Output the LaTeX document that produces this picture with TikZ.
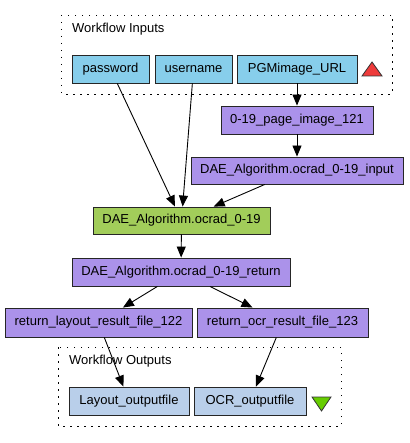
\documentclass[tikz,border=0pt]{standalone}
\usepackage{fontspec}
\setmainfont{Liberation Sans}
\usetikzlibrary{arrows.meta}
\definecolor{inblue}{HTML}{87CEEB}
\definecolor{procpurple}{HTML}{AB92EA}
\definecolor{procgreen}{HTML}{A2CD5A}
\definecolor{outblue}{HTML}{B9CFEA}
\definecolor{trired}{HTML}{EE3B3B}
\definecolor{trigreen}{HTML}{66CD00}
\tikzset{
  box/.style={draw=black!85, line width=0.9pt, rectangle, inner sep=0pt, minimum height=28pt,
    font=\fontsize{13}{15}\selectfont},
  inport/.style={box, fill=inblue},
  proc/.style={box, fill=procpurple},
  mainproc/.style={box, fill=procgreen},
  outport/.style={box, fill=outblue},
  cluster/.style={draw=black, line width=0.9pt, dash pattern=on 1.5pt off 5.5pt},
  edge/.style={draw=black, line width=0.9pt, -{Triangle[length=11pt,width=9pt]}},
  title/.style={anchor=west, inner sep=0pt, font=\fontsize{13}{15}\selectfont}
}
\begin{document}
\begin{tikzpicture}[x=1pt,y=-1pt]
\useasboundingbox (0,0) rectangle (409,443);
% clusters
\draw[cluster] (61,15) rectangle (392,94);
\node[title] (intitle) at (72,29) {Workflow Inputs};
\draw[cluster] (58,347) rectangle (341,426);
\node[title] (outtitle) at (69,361) {Workflow Outputs};
% inputs
\node[inport, minimum width=77pt] (password) at (110.5,69) {password};
\node[inport, minimum width=77pt] (username) at (193.5,69) {username};
\node[inport, minimum width=120pt] (pgm) at (297,69) {PGMimage\_URL};
\draw[draw=black!80, fill=trired, line width=0.8pt] (362,76) -- (382,76) -- (372,62) -- cycle;
% processors
\node[proc, minimum width=152pt] (page) at (297,120) {0-19\_page\_image\_121};
\node[proc, minimum width=212pt, minimum height=27pt] (input) at (297,170.5) {DAE\_Algorithm.ocrad\_0-19\_input};
\node[mainproc, minimum width=177pt, minimum height=27pt] (alg) at (181.5,220.5) {DAE\_Algorithm.ocrad\_0-19};
\node[proc, minimum width=218pt] (ret) at (181,272) {DAE\_Algorithm.ocrad\_0-19\_return};
\node[proc, minimum width=187pt, minimum height=29pt] (layres) at (98.5,322.5) {return\_layout\_result\_file\_122};
\node[proc, minimum width=171pt, minimum height=29pt] (ocrres) at (282.5,322.5) {return\_ocr\_result\_file\_123};
% outputs
\node[outport, minimum width=120pt] (layout) at (129,401) {Layout\_outputfile};
\node[outport, minimum width=112pt] (ocr) at (250,401) {OCR\_outputfile};
\draw[draw=black!80, fill=trigreen, line width=0.8pt] (312,397) -- (331,397) -- (321.5,411) -- cycle;
% edges
\draw[edge] (password) -- (alg);
\draw[edge] (username) -- (alg);
\draw[edge] (pgm) -- (page);
\draw[edge] (page) -- (input);
\draw[edge] (input) -- (alg);
\draw[edge] (alg) -- (ret);
\draw[edge] (ret) -- (layres);
\draw[edge] (ret) -- (ocrres);
\draw[edge] (layres) -- (layout);
\draw[edge] (ocrres) -- (ocr);
\end{tikzpicture}
\end{document}
